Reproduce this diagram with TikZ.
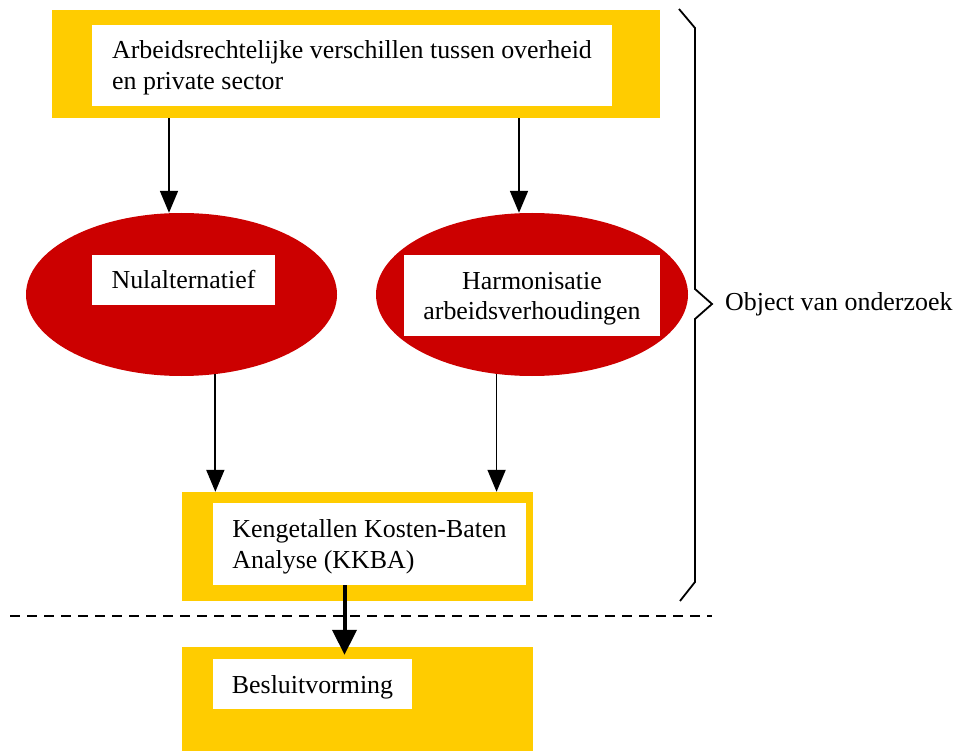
\documentclass[tikz,border=0pt]{standalone}
\usepackage{fontspec}
\setmainfont{Liberation Serif}
\usetikzlibrary{arrows.meta}
\usetikzlibrary{shapes.geometric}
\definecolor{geel}{HTML}{FFCC00}
\definecolor{rood}{HTML}{CC0000}

\begin{document}
\begin{tikzpicture}[x=1pt,y=-1pt,
    geelvlak/.style={fill=geel, inner sep=0pt},
    wit/.style={fill=white, inner sep=0pt, align=left, text height=23.7pt, text depth=5.7pt,
                font=\fontsize{25.9}{31}\selectfont},
    tweeregels/.style={text height=54.7pt},
    ovaal/.style={ellipse, fill=rood, inner sep=0pt},
    pijl/.style={line width=1.8pt, -{Triangle[length=22pt,width=18pt]}},
    dikpijl/.style={line width=4pt, -{Triangle[length=25pt,width=24pt]}}]
       \useasboundingbox (0,0) rectangle (956,751);

       % bovenste blok
       \node[geelvlak, minimum width=608pt, minimum height=108pt] (bovengeel) at (356, 64) {};
       \node[wit, tweeregels, minimum width=520pt, minimum height=81pt] (boven) at (352, 65.5) {Arbeidsrechtelijke verschillen tussen overheid\\en private sector};

       % alternatieven
       \node[ovaal, minimum width=311pt, minimum height=163pt] (nul) at (181.5, 294.5) {};
       \node[wit, minimum width=183pt, minimum height=50pt] (nultekst) at (183.5, 280) {Nulalternatief};
       \node[ovaal, minimum width=312pt, minimum height=163pt] (harm) at (532, 294.5) {};
       \node[wit, tweeregels, align=center, minimum width=256pt, minimum height=81pt] (harmtekst) at (532, 295.5) {Harmonisatie\\arbeidsverhoudingen};

       % kkba en besluitvorming
       \node[geelvlak, minimum width=351pt, minimum height=109pt] (kkbageel) at (357.5, 546.5) {};
       \node[wit, tweeregels, minimum width=313pt, minimum height=82pt] (kkba) at (369.5, 544) {Kengetallen Kosten-Baten\\Analyse (KKBA)};
       \node[geelvlak, minimum width=351pt, minimum height=104pt] (besgeel) at (357.5, 699) {};
       \node[wit, minimum width=199pt, minimum height=50pt] (besluit) at (312.5, 684) {Besluitvorming};

       \draw[pijl] ([xshift=-12.5pt]nul.north |- bovengeel.south) -- ([xshift=-12.5pt]nul.north);
       \draw[pijl] ([xshift=-13pt]harm.north |- bovengeel.south) -- ([xshift=-13pt]harm.north);
       \draw[pijl] (nul.-67.2) -- (nul.-67.2 |- kkbageel.north);
       \draw[pijl] (harm.-114.4) -- (harm.-114.4 |- kkbageel.north);
       \draw[dikpijl] ([xshift=-25pt]kkba.south) -- ([xshift=-25pt,yshift=-8pt]kkba.south |- besgeel.north);

       % scheiding
       \coordinate (links) at (10, 616);
       \coordinate (rechts) at (712, 616);
       \draw[line width=1.5pt, dash pattern=on 10pt off 7pt] (links) -- (rechts);

       % accolade
       \coordinate (punt) at (712, 304);
       \draw[line width=1.8pt] (679, 9) -- (695, 28) -- (695, 289) -- (punt) -- (695, 319) -- (695, 582) -- (680, 601);
       \node[anchor=west, inner sep=0pt, font=\fontsize{25.9}{31}\selectfont] (object) at (725, 304) {Object van onderzoek};
\end{tikzpicture}
\end{document}
